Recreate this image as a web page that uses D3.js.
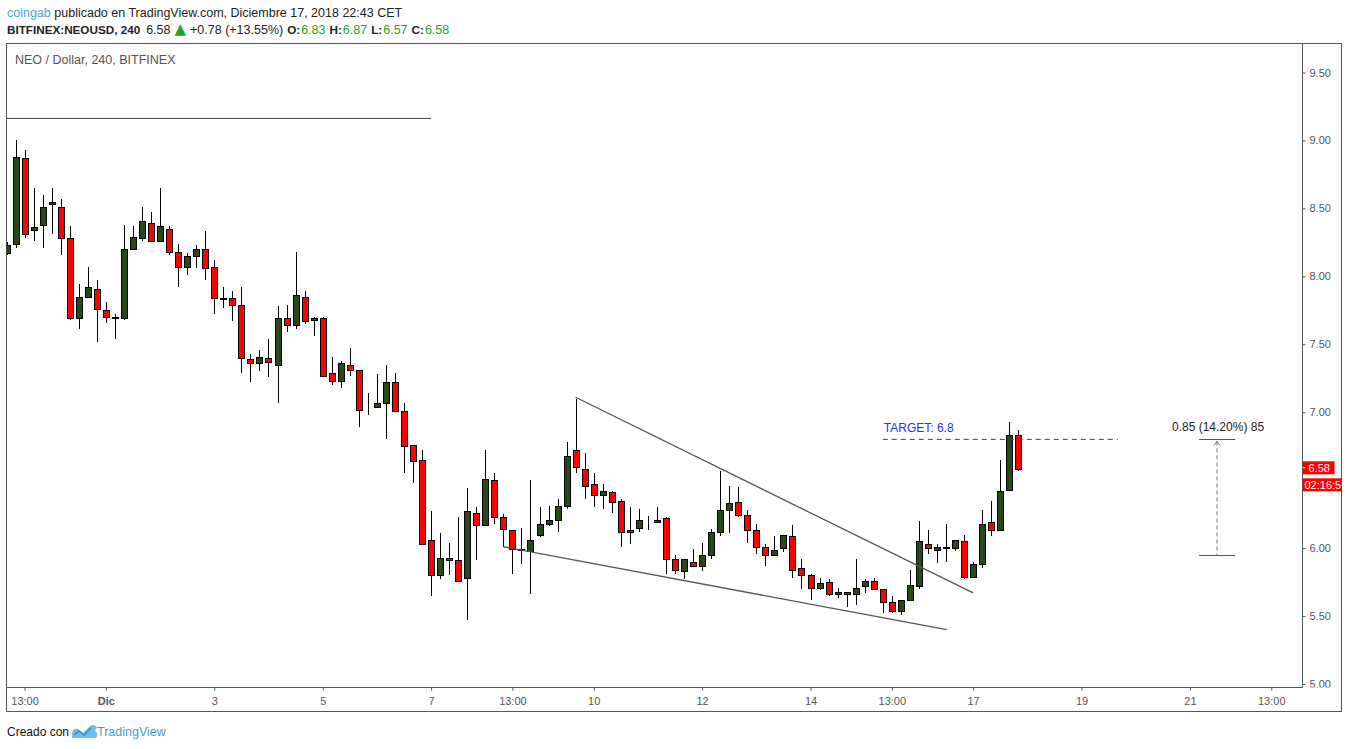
<!DOCTYPE html>
<html>
<head>
<meta charset="utf-8">
<script src="https://cdn.jsdelivr.net/npm/d3@7"></script>
<style>
  body { margin: 0; background: #fff; }
  svg { display: block; font-family: "Liberation Sans", Arial, sans-serif; }
</style>
</head>
<body>
<svg id="chart" width="1348" height="749"></svg>
<script>
// *************************************
// DATA (4h candles, NEOUSD Bitfinex)
// *************************************

const firstCandle = Date.UTC(2018, 10, 29, 4); // 05:00 CET
const candleMs = 4 * 3600 * 1000;

const opens = [
  8.17, 8.24, 8.87, 8.34, 8.38, 8.53, 8.51, 8.28, 7.69, 7.85,
  7.91, 7.75, 7.70, 7.69, 8.20, 8.28, 8.39, 8.26, 8.35, 8.18,
  8.07, 8.15, 8.20, 8.07, 7.836, 7.84, 7.79, 7.39, 7.36, 7.40,
  7.35, 7.69, 7.64, 7.85, 7.675, 7.69, 7.285, 7.233, 7.35, 7.31,
  7.030, 7.035, 7.07, 7.22, 7.01, 6.76, 6.645, 6.06, 5.80, 5.93,
  5.91, 5.78, 6.255, 6.17, 6.50, 6.23, 6.13, 5.985, 5.98, 6.10,
  6.175, 6.21, 6.31, 6.72, 6.58, 6.47, 6.39, 6.41, 6.35, 6.13,
  6.145, 6.204, 6.19, 6.22, 5.92, 5.83, 5.90, 5.87, 5.95, 6.12,
  6.28, 6.34, 6.24, 6.13, 6.005, 5.946, 6.00, 6.09, 5.85, 5.80,
  5.704, 5.75, 5.66, 5.674, 5.66, 5.72, 5.76, 5.70, 5.60, 5.54,
  5.615, 5.72, 6.03, 5.983, 6.00, 6.00, 6.05, 5.784, 5.88, 6.19,
  6.13, 6.43, 6.83
];
const highs = [
  8.25, 9.00, 8.93, 8.65, 8.60, 8.65, 8.57, 8.37, 7.94, 8.07,
  7.97, 7.81, 7.72, 8.38, 8.37, 8.51, 8.47, 8.65, 8.37, 8.24,
  8.17, 8.23, 8.33, 8.12, 7.92, 7.89, 7.92, 7.43, 7.46, 7.54,
  7.78, 7.79, 8.18, 7.89, 7.70, 7.70, 7.41, 7.38, 7.47, 7.31,
  7.14, 7.28, 7.35, 7.29, 7.07, 6.76, 6.72, 6.27, 6.11, 6.04,
  6.23, 6.44, 6.30, 6.72, 6.55, 6.25, 6.13, 6.145, 6.50, 6.30,
  6.31, 6.36, 6.78, 7.10, 6.70, 6.55, 6.47, 6.42, 6.365, 6.30,
  6.285, 6.233, 6.30, 6.23, 5.95, 5.92, 5.99, 6.035, 6.14, 6.57,
  6.46, 6.45, 6.28, 6.18, 6.03, 6.086, 6.10, 6.17, 5.92, 5.81,
  5.78, 5.77, 5.71, 5.68, 5.92, 5.77, 5.78, 5.70, 5.65, 5.62,
  5.84, 6.20, 6.13, 6.03, 6.18, 6.06, 6.10, 5.895, 6.28, 6.35,
  6.645, 6.93, 6.87
];
const lows = [
  8.16, 8.21, 8.28, 8.26, 8.21, 8.31, 8.16, 7.68, 7.61, 7.85,
  7.52, 7.66, 7.54, 7.68, 8.20, 8.26, 8.25, 8.26, 8.16, 7.92,
  8.01, 8.06, 7.97, 7.72, 7.77, 7.67, 7.29, 7.22, 7.30, 7.26,
  7.07, 7.59, 7.61, 7.65, 7.56, 7.26, 7.20, 7.18, 7.27, 6.89,
  6.98, 7.03, 6.80, 7.00, 6.55, 6.48, 6.03, 5.65, 5.77, 5.80,
  5.755, 5.47, 5.91, 6.17, 6.18, 6.01, 5.81, 5.88, 5.66, 6.08,
  6.16, 6.12, 6.29, 6.55, 6.36, 6.30, 6.29, 6.255, 6.01, 6.03,
  6.115, 6.13, 6.19, 5.81, 5.81, 5.77, 5.87, 5.83, 5.92, 6.09,
  6.11, 6.23, 6.04, 5.96, 5.865, 5.94, 5.97, 5.78, 5.70, 5.615,
  5.69, 5.65, 5.63, 5.565, 5.58, 5.67, 5.69, 5.52, 5.52, 5.505,
  5.61, 5.70, 5.96, 5.89, 5.90, 5.98, 5.77, 5.784, 5.85, 6.09,
  6.13, 6.43, 6.57
];
const closes = [
  8.23, 8.88, 8.31, 8.36, 8.51, 8.55, 8.28, 7.69, 7.85, 7.92,
  7.76, 7.70, 7.69, 8.20, 8.29, 8.41, 8.26, 8.37, 8.18, 8.07,
  8.15, 8.20, 8.06, 7.84, 7.842, 7.79, 7.40, 7.36, 7.41, 7.37,
  7.69, 7.64, 7.86, 7.67, 7.69, 7.27, 7.233, 7.36, 7.31, 7.02,
  7.034, 7.07, 7.22, 7.01, 6.75, 6.64, 6.03, 5.80, 5.93, 5.91,
  5.76, 6.27, 6.17, 6.505, 6.23, 6.14, 5.99, 5.99, 6.06, 6.18,
  6.21, 6.31, 6.68, 6.60, 6.46, 6.39, 6.42, 6.34, 6.115, 6.115,
  6.21, 6.204, 6.21, 5.92, 5.84, 5.92, 5.87, 5.95, 6.12, 6.28,
  6.33, 6.24, 6.13, 6.005, 5.946, 5.983, 6.10, 5.84, 5.80, 5.71,
  5.74, 5.66, 5.674, 5.66, 5.71, 5.755, 5.70, 5.60, 5.535, 5.62,
  5.726, 6.05, 6.00, 6.005, 6.005, 6.057, 5.79, 5.88, 6.18, 6.13,
  6.42, 6.83, 6.58
];

// time axis: UTC dates, labels shown in CET
const timeTicks = [
  Date.UTC(2018, 10, 29, 12), Date.UTC(2018, 11, 1), Date.UTC(2018, 11, 3),
  Date.UTC(2018, 11, 5), Date.UTC(2018, 11, 7), Date.UTC(2018, 11, 8, 12),
  Date.UTC(2018, 11, 10), Date.UTC(2018, 11, 12), Date.UTC(2018, 11, 14),
  Date.UTC(2018, 11, 15, 12), Date.UTC(2018, 11, 17), Date.UTC(2018, 11, 19),
  Date.UTC(2018, 11, 21), Date.UTC(2018, 11, 22, 12)
];
const timeLabels = ["13:00", "Dic", "3", "5", "7", "13:00", "10", "12", "14", "13:00", "17", "19", "21", "13:00"];
const priceTicks = [5.0, 5.5, 6.0, 6.5, 7.0, 7.5, 8.0, 8.5, 9.0, 9.5];

// drawings: [candle index, price]
const resistanceLine = [[-2, 9.162], [47, 9.162]];
const upperWedge = [[63, 7.11], [107, 5.67]];
const lowerWedge = [[55, 6.01], [104.07, 5.40]];
const targetLine = [[97, 6.8], [123, 6.8]];
const measureRange = { from: 132, to: 136, low: 5.95, high: 6.8, label: "0.85 (14.20%) 85" };

const lastPrice = 6.58;
const countdown = "02:16:5";

// *************************************
// SCALES
// *************************************

let candleTime = (i) => new Date(firstCandle + i * candleMs);

const plot = { left: 6.5, top: 43.5, right: 1302.5, bottom: 687.5 };
const frame = { right: 1341.5, bottom: 711.5 };

const x = d3.scaleUtc()
  .domain([candleTime(0), candleTime(opens.length - 1)])
  .range([6.5, 1018.3]);
const y = d3.scaleLinear().domain([5, 9.5]).range([684, 72.5]);

const svg = d3.select("#chart");
const defs = svg.append("defs");

defs.append("clipPath").attr("id", "plotClip")
  .append("rect")
  .attr("x", plot.left).attr("y", plot.top)
  .attr("width", plot.right - plot.left).attr("height", plot.bottom - plot.top);

defs.append("clipPath").attr("id", "priceClip")
  .append("rect")
  .attr("x", plot.right).attr("y", plot.top)
  .attr("width", frame.right - plot.right).attr("height", plot.bottom - plot.top);

// *************************************
// HEADER
// *************************************

const green = "#1fa51f";
const fmt = d3.format(".2f");
const last = opens.length - 1;

const line1 = svg.append("text").attr("x", 7).attr("y", 17).attr("font-size", 12.5).attr("fill", "#222");
line1.append("tspan").attr("fill", "#4aa3df").text("coingab");
line1.append("tspan").text(" publicado en TradingView.com, Diciembre 17, 2018 22:43 CET");

const line2 = svg.append("text").attr("x", 7).attr("y", 34).attr("font-size", 12.5).attr("fill", "#222");
line2.append("tspan").attr("font-weight", "bold").attr("font-size", 11.7).text("BITFINEX:NEOUSD, 240");
line2.append("tspan").attr("dx", 6).text(fmt(closes[last]));
line2.append("tspan").attr("dx", 4).attr("fill", green).attr("font-size", 15)
  .attr("font-family", "DejaVu Sans").text("▲");
line2.append("tspan").attr("dx", 4).text("+0.78 (+13.55%)");
[["O:", opens[last]], ["H:", highs[last]], ["L:", lows[last]], ["C:", closes[last]]].forEach(([k, v]) => {
  line2.append("tspan").attr("dx", 4).attr("font-weight", "bold").attr("font-size", 11.7).text(k);
  line2.append("tspan").attr("dx", 1).attr("fill", green).text(fmt(v));
});

// *************************************
// FRAME
// *************************************

svg.append("rect")
  .attr("x", plot.left).attr("y", plot.top)
  .attr("width", frame.right - plot.left).attr("height", frame.bottom - plot.top)
  .attr("fill", "none").attr("stroke", "#555");
svg.append("line")
  .attr("x1", plot.right).attr("x2", plot.right)
  .attr("y1", plot.top).attr("y2", plot.bottom)
  .attr("stroke", "#555");
svg.append("line")
  .attr("x1", plot.left).attr("x2", plot.right)
  .attr("y1", plot.bottom).attr("y2", plot.bottom)
  .attr("stroke", "#555");

svg.append("text")
  .attr("x", 15).attr("y", 64)
  .attr("font-size", 12.5).attr("fill", "#555")
  .text("NEO / Dollar, 240, BITFINEX");

// *************************************
// CANDLES
// *************************************

const candles = opens.map((o, i) => ({ t: candleTime(i), o: o, h: highs[i], l: lows[i], c: closes[i] }));
const gPlot = svg.append("g").attr("clip-path", "url(#plotClip)");

const gCandle = gPlot.selectAll("g.candle")
  .data(candles)
  .join("g")
  .attr("class", "candle");

gCandle.append("line")
  .attr("x1", (d) => Math.round(x(d.t)) + 0.5)
  .attr("x2", (d) => Math.round(x(d.t)) + 0.5)
  .attr("y1", (d) => Math.round(y(d.h)))
  .attr("y2", (d) => Math.round(y(d.l)))
  .attr("stroke", "#000");

gCandle.append("rect")
  .attr("x", (d) => Math.round(x(d.t)) - 2.5)
  .attr("y", (d) => Math.round(y(Math.max(d.o, d.c))) + 0.5)
  .attr("width", 6)
  .attr("height", (d) => Math.max(0, Math.round(y(Math.min(d.o, d.c))) - Math.round(y(Math.max(d.o, d.c)))))
  .attr("fill", (d) => (d.c >= d.o ? "#27491a" : "#ff0000"))
  .attr("stroke", "#000");

// *************************************
// DRAWINGS
// *************************************

let linePath = (pts) => d3.line()
  .x((p) => x(candleTime(p[0])))
  .y((p) => y(p[1]))(pts);

gPlot.append("path").attr("d", linePath(resistanceLine))
  .attr("stroke", "#444").attr("stroke-width", 1).attr("fill", "none");

[upperWedge, lowerWedge].forEach((pts) => {
  gPlot.append("path").attr("d", linePath(pts))
    .attr("stroke", "#555").attr("stroke-width", 1.3).attr("fill", "none");
});

gPlot.append("path").attr("d", linePath(targetLine))
  .attr("stroke", "#2b2bff").attr("stroke-width", 1)
  .attr("stroke-dasharray", "5,4").attr("fill", "none");

gPlot.append("text")
  .attr("x", x(candleTime(targetLine[0][0])) + 1)
  .attr("y", y(targetLine[0][1]) - 7)
  .attr("font-size", 12).attr("fill", "#2b2bff")
  .text("TARGET: 6.8");

// price range measurement
const mx1 = x(candleTime(measureRange.from));
const mx2 = x(candleTime(measureRange.to));
const mxc = (mx1 + mx2) / 2;
const gMeasure = gPlot.append("g");
[measureRange.high, measureRange.low].forEach((p) => {
  gMeasure.append("line")
    .attr("x1", mx1).attr("x2", mx2)
    .attr("y1", Math.round(y(p)) + 0.5).attr("y2", Math.round(y(p)) + 0.5)
    .attr("stroke", "#555");
});
gMeasure.append("line")
  .attr("x1", mxc).attr("x2", mxc)
  .attr("y1", y(measureRange.high) + 2).attr("y2", y(measureRange.low))
  .attr("stroke", "#777").attr("stroke-dasharray", "4,3");
gMeasure.append("path")
  .attr("d", `M${mxc - 3},${y(measureRange.high) + 6} L${mxc},${y(measureRange.high) + 2} L${mxc + 3},${y(measureRange.high) + 6}`)
  .attr("stroke", "#777").attr("fill", "none");
gMeasure.append("text")
  .attr("x", mxc + 1).attr("y", y(measureRange.high) - 8)
  .attr("text-anchor", "middle")
  .attr("font-size", 12).attr("fill", "#222")
  .text(measureRange.label);

// *************************************
// AXES
// *************************************

const xAxis = d3.axisBottom(x)
  .tickValues(timeTicks.map((d) => new Date(d)))
  .tickFormat((d, i) => timeLabels[i])
  .tickSize(3)
  .tickPadding(7);

const gx = svg.append("g")
  .attr("transform", `translate(0,${plot.bottom})`)
  .call(xAxis);
gx.select(".domain").remove();
gx.selectAll(".tick line").attr("stroke", "#555");
gx.selectAll(".tick text")
  .attr("fill", "#555").attr("font-size", 11)
  .attr("font-family", "Liberation Sans, Arial, sans-serif")
  .attr("font-weight", (d, i) => (timeLabels[i] === "Dic" ? "bold" : "normal"));

const yAxis = d3.axisRight(y)
  .tickValues(priceTicks)
  .tickFormat(fmt)
  .tickSize(3)
  .tickPadding(4);

const gy = svg.append("g")
  .attr("clip-path", "url(#priceClip)")
  .append("g")
  .attr("transform", `translate(${plot.right},0)`)
  .call(yAxis);
gy.select(".domain").remove();
gy.selectAll(".tick line").attr("stroke", "#555");
gy.selectAll(".tick text")
  .attr("fill", "#555").attr("font-size", 11)
  .attr("font-family", "Liberation Sans, Arial, sans-serif");

// tick labels hidden behind the last price / countdown boxes
const yLast = y(lastPrice);
gy.selectAll(".tick text")
  .filter((d) => y(d) > yLast - 10 && y(d) < yLast + 24)
  .remove();

// last price + countdown labels
const gLast = svg.append("g").attr("clip-path", "url(#priceClip)");
gLast.append("rect")
  .attr("x", plot.right).attr("y", yLast - 8)
  .attr("width", 32).attr("height", 13)
  .attr("fill", "#ff0000");
gLast.append("line")
  .attr("x1", plot.right).attr("x2", plot.right + 3)
  .attr("y1", yLast - 1.5).attr("y2", yLast - 1.5)
  .attr("stroke", "#fff");
gLast.append("text")
  .attr("x", plot.right + 6).attr("y", yLast + 2.5)
  .attr("font-size", 11).attr("fill", "#fff")
  .text(fmt(lastPrice));
gLast.append("rect")
  .attr("x", plot.right).attr("y", yLast + 9)
  .attr("width", 40).attr("height", 13)
  .attr("fill", "#ff0000");
gLast.append("text")
  .attr("x", plot.right + 2).attr("y", yLast + 19.5)
  .attr("font-size", 11).attr("fill", "#fff")
  .text(countdown);

// *************************************
// FOOTER
// *************************************

const footer = svg.append("g").attr("transform", "translate(7,736)");
footer.append("text").attr("font-size", 12).attr("fill", "#111").text("Creado con");
footer.append("path")
  .attr("d", "M65,2 L65,-3 Q66,-8 71,-7 L76,-3 L82,-9 Q86,-13 90,-9 L88,-5 Q92,-3 89,2 Z")
  .attr("fill", "#6cbfeb");
footer.append("path")
  .attr("d", "M67,-1 L72,-5 L77,-1 L84,-8")
  .attr("stroke", "#2f8fd0").attr("stroke-width", 1.5).attr("fill", "none");
footer.append("text")
  .attr("x", 90).attr("font-size", 12.5).attr("fill", "#3a9ede")
  .text("TradingView");
</script>
</body>
</html>
